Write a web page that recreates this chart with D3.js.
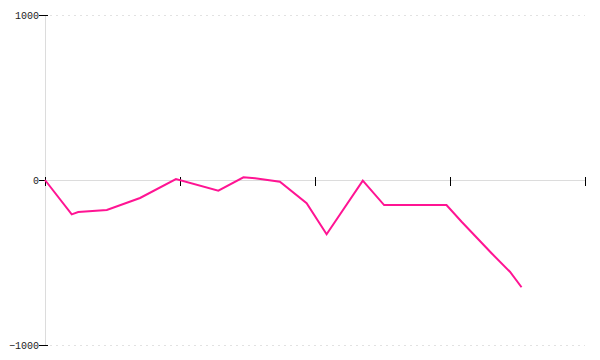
<!DOCTYPE html>
<html>
<head>
    <meta charset="utf-8" />
    <title>Line Chart</title>
    <script src="https://d3js.org/d3.v7.min.js"></script>
    <style>
        body { margin: 0; background: #fff; }
        text { font-family: "Liberation Mono", monospace; font-size: 10px; }
    </style>
</head>
<body>
    <svg width="600" height="360"></svg>
    <script>
        // data
        const xValues = [0, 0.99, 1.23, 2.29, 3.52, 4.85, 6.42, 7.35, 7.78, 8.7, 9.69, 10.43, 11.77, 12.56, 14.87, 15.43, 16.54, 17.22, 17.65];
        const yValues = [0, -208, -194, -182, -109, 6, -65, 16, 10, -10, -141, -329, -4, -152, -152, -253, -444, -556, -650];
        const xTicks = [0, 5, 10, 15, 20];
        const yTicks = [-1000, 0, 1000];

        const data = xValues.map((x, i) => ({ x: x, y: yValues[i] }));

        const svg = d3.select("svg");
        const width = +svg.attr("width");
        const height = +svg.attr("height");
        const margin = { top: 15, bottom: 15, left: 45, right: 15 };

        const xScale = d3.scaleLinear()
            .domain([0, 20])
            .range([margin.left, width - margin.right]);
        const yScale = d3.scaleLinear()
            .domain([-1000, 1000])
            .range([height - margin.bottom, margin.top]);

        // dotted grid lines at the outer ticks
        svg.append("g")
            .selectAll("line")
            .data(yTicks.filter(d => d !== 0))
            .enter()
            .append("line")
            .attr("x1", margin.left + 5)
            .attr("x2", width - margin.right)
            .attr("y1", d => yScale(d) + 0.5)
            .attr("y2", d => yScale(d) + 0.5)
            .attr("stroke", "#e2e2e2")
            .attr("stroke-dasharray", "2,4");

        // y axis
        const yAxis = d3.axisLeft(yScale)
            .tickValues(yTicks)
            .tickSize(6)
            .tickFormat(d3.format("d"));
        const gy = svg.append("g")
            .attr("transform", "translate(" + margin.left + ",0)")
            .call(yAxis);
        gy.select(".domain").attr("stroke", "#dcdcdc").attr("d", "M0.5," + margin.top + "V" + (height - margin.bottom));
        gy.selectAll(".tick line").attr("x1", 3).attr("stroke", "#000");
        gy.selectAll(".tick text").attr("x", -6).attr("fill", "#222")
            .style("font-family", "'Liberation Mono', monospace").style("font-size", "10px");

        // x axis through zero
        const xAxis = d3.axisBottom(xScale)
            .tickValues(xTicks)
            .tickSize(6)
            .tickFormat("");
        const gx = svg.append("g")
            .attr("transform", "translate(0," + yScale(0) + ")")
            .call(xAxis);
        gx.select(".domain").attr("stroke", "#dcdcdc").attr("d", "M" + margin.left + ",0.5H" + (width - margin.right));
        gx.selectAll(".tick line").attr("y1", -3).attr("stroke", "#000");

        // line
        const line = d3.line()
            .x(d => xScale(d.x))
            .y(d => yScale(d.y));

        svg.append("path")
            .datum(data)
            .attr("fill", "none")
            .attr("stroke", "#ff1493")
            .attr("stroke-width", 2)
            .attr("d", line);
    </script>
</body>
</html>
